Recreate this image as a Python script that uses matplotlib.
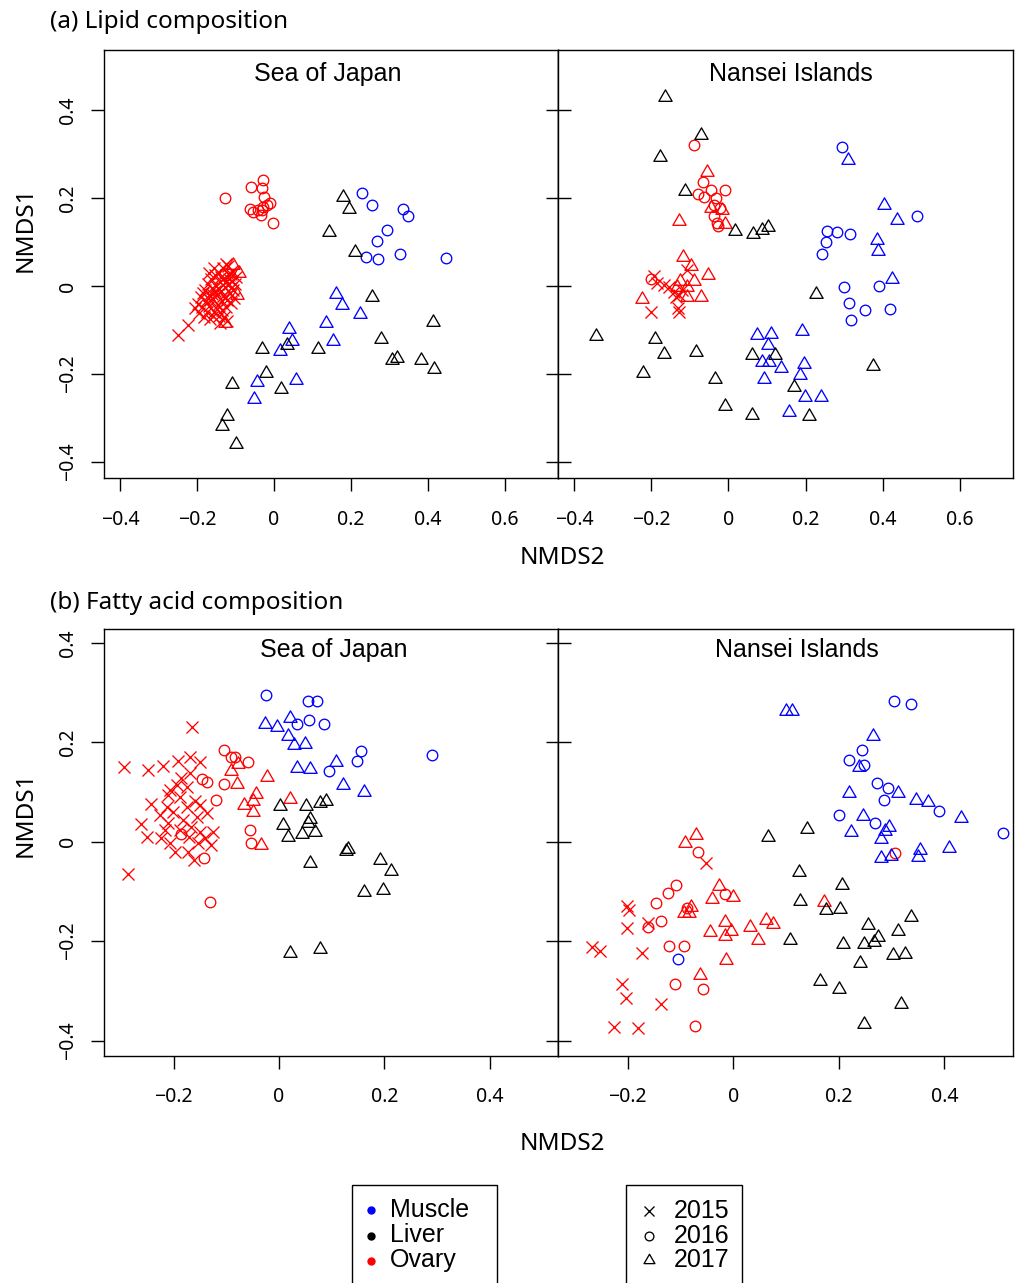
import matplotlib
matplotlib.use("Agg")
import matplotlib.pyplot as plt
from matplotlib.path import Path
from matplotlib.lines import Line2D
from matplotlib.patches import Rectangle

plt.rcParams["font.family"] = ["Noto Sans", "DejaVu Sans"]

# ---------------- data (NMDS2 = x, NMDS1 = y) ----------------
# (a) Lipid composition, Sea of Japan
A_SOJ_OVARY_2015 = [(-0.249, -0.111), (-0.223, -0.089), (-0.205, -0.050), (-0.198, -0.040), (-0.195, -0.062),
                    (-0.190, -0.025), (-0.186, -0.048), (-0.182, -0.070), (-0.180, -0.010), (-0.177, -0.035),
                    (-0.175, -0.058), (-0.172, 0.005), (-0.170, -0.020), (-0.168, -0.045), (-0.165, -0.075),
                    (-0.163, 0.015), (-0.160, -0.005), (-0.158, -0.030), (-0.156, -0.060), (-0.153, 0.025),
                    (-0.150, 0.000), (-0.148, -0.020), (-0.146, -0.042), (-0.144, -0.068), (-0.142, 0.030),
                    (-0.140, 0.010), (-0.138, -0.012), (-0.136, -0.035), (-0.134, -0.055), (-0.132, 0.040),
                    (-0.130, 0.018), (-0.128, -0.003), (-0.126, -0.025), (-0.124, -0.048), (-0.122, -0.080),
                    (-0.120, 0.045), (-0.118, 0.025), (-0.116, 0.005), (-0.114, -0.015), (-0.112, -0.038),
                    (-0.110, 0.035), (-0.108, 0.012), (-0.106, -0.008), (-0.104, -0.028), (-0.140, -0.085),
                    (-0.155, 0.040), (-0.125, 0.050), (-0.100, 0.020), (-0.185, -0.015), (-0.170, 0.030),
                    (-0.161, -0.017), (-0.149, -0.053), (-0.143, -0.006), (-0.133, -0.022), (-0.127, 0.008),
                    (-0.121, -0.032), (-0.117, 0.015), (-0.111, -0.004), (-0.137, 0.020), (-0.152, -0.012),
                    (-0.167, -0.032), (-0.159, -0.068), (-0.131, -0.070), (-0.113, 0.028), (-0.102, 0.005)]
A_SOJ_OVARY_2016 = [(-0.126, 0.201), (-0.060, 0.226), (-0.028, 0.241), (-0.031, 0.223), (-0.026, 0.203),
                    (-0.010, 0.188), (-0.019, 0.183), (-0.062, 0.175), (-0.054, 0.169), (-0.041, 0.173),
                    (-0.032, 0.173), (-0.035, 0.161), (-0.028, 0.180), (-0.002, 0.144)]
A_SOJ_OVARY_2017 = [(-0.107, 0.048), (-0.090, 0.029), (-0.097, -0.020), (-0.128, -0.083)]
A_SOJ_MUSCLE_2016 = [(0.229, 0.211), (0.254, 0.184), (0.335, 0.176), (0.347, 0.160), (0.293, 0.127),
                     (0.267, 0.103), (0.238, 0.067), (0.271, 0.061), (0.326, 0.073), (0.448, 0.064)]
A_SOJ_MUSCLE_2017 = [(0.160, -0.017), (0.176, -0.043), (0.224, -0.064), (0.136, -0.083), (0.038, -0.098),
                     (0.154, -0.124), (0.046, -0.125), (0.015, -0.148), (-0.044, -0.217), (0.056, -0.214),
                     (-0.053, -0.257)]
A_SOJ_LIVER_2017 = [(0.178, 0.202), (0.194, 0.176), (0.142, 0.123), (0.210, 0.077), (0.254, -0.024),
                    (0.412, -0.081), (0.279, -0.120), (-0.031, -0.142), (0.035, -0.133), (0.113, -0.144),
                    (0.307, -0.168), (0.320, -0.164), (0.381, -0.167), (0.416, -0.189), (-0.022, -0.197),
                    (-0.109, -0.223), (0.018, -0.235), (-0.123, -0.295), (-0.134, -0.317), (-0.100, -0.359)]

# (a) Lipid composition, Nansei Islands
A_NI_OVARY_2015 = [(-0.192, 0.023), (-0.184, 0.006), (-0.166, 0.002), (-0.153, -0.002), (-0.140, -0.013),
                   (-0.127, -0.020), (-0.136, -0.024), (-0.106, 0.036), (-0.201, -0.060), (-0.130, -0.051),
                   (-0.127, -0.060), (-0.119, -0.009)]
A_NI_OVARY_2016 = [(-0.090, 0.320), (-0.065, 0.237), (-0.045, 0.218), (-0.010, 0.218), (-0.078, 0.208),
                   (-0.062, 0.203), (-0.031, 0.201), (-0.038, 0.184), (-0.023, 0.178), (-0.036, 0.160),
                   (-0.030, 0.142), (-0.028, 0.137), (-0.201, 0.015)]
A_NI_OVARY_2017 = [(-0.055, 0.258), (-0.045, 0.177), (-0.016, 0.173), (-0.009, 0.140), (-0.129, 0.147),
                   (-0.118, 0.067), (-0.098, 0.046), (-0.054, 0.025), (-0.090, 0.011), (-0.126, 0.011),
                   (-0.106, -0.002), (-0.224, -0.030), (-0.106, -0.026), (-0.071, -0.026), (-0.132, -0.002)]
A_NI_MUSCLE_2016 = [(0.294, 0.315), (0.490, 0.158), (0.255, 0.124), (0.282, 0.122), (0.316, 0.117),
                    (0.254, 0.099), (0.242, 0.073), (0.300, -0.003), (0.390, 0.000), (0.312, -0.039),
                    (0.355, -0.055), (0.419, -0.052), (0.319, -0.078)]
A_NI_MUSCLE_2017 = [(0.310, 0.286), (0.404, 0.183), (0.436, 0.150), (0.384, 0.104), (0.389, 0.079),
                    (0.423, 0.015), (0.074, -0.111), (0.111, -0.108), (0.192, -0.102), (0.103, -0.135),
                    (0.087, -0.173), (0.105, -0.173), (0.136, -0.187), (0.196, -0.177), (0.185, -0.202),
                    (0.092, -0.211), (0.199, -0.252), (0.241, -0.253), (0.157, -0.286)]
A_NI_LIVER_2017 = [(-0.163, 0.429), (-0.070, 0.343), (-0.178, 0.292), (-0.112, 0.216), (0.016, 0.125),
                   (0.065, 0.117), (0.087, 0.127), (0.103, 0.135), (0.228, -0.019), (-0.343, -0.114),
                   (-0.190, -0.121), (-0.166, -0.155), (-0.083, -0.149), (0.062, -0.157), (0.121, -0.157),
                   (-0.220, -0.198), (-0.035, -0.212), (0.169, -0.230), (0.375, -0.182), (-0.010, -0.272),
                   (0.062, -0.293), (0.208, -0.295)]

# (b) Fatty acid composition, Sea of Japan
B_SOJ_OVARY_2015 = [(-0.165, 0.230), (-0.294, 0.151), (-0.248, 0.144), (-0.220, 0.152), (-0.191, 0.163),
                    (-0.168, 0.171), (-0.150, 0.161), (-0.169, 0.139), (-0.185, 0.128), (-0.194, 0.114),
                    (-0.175, 0.111), (-0.242, 0.076), (-0.210, 0.094), (-0.213, 0.070), (-0.261, 0.035),
                    (-0.250, 0.009), (-0.286, -0.065), (-0.159, 0.081), (-0.150, 0.074), (-0.201, 0.060),
                    (-0.226, 0.054), (-0.210, 0.038), (-0.182, 0.044), (-0.166, 0.030), (-0.137, 0.057),
                    (-0.125, 0.020), (-0.223, 0.007), (-0.207, -0.003), (-0.197, -0.020), (-0.172, -0.020),
                    (-0.161, -0.037), (-0.153, -0.003), (-0.141, 0.007), (-0.128, -0.007), (-0.188, 0.091),
                    (-0.175, 0.070), (-0.156, 0.050), (-0.188, 0.023), (-0.216, 0.023), (-0.170, 0.010),
                    (-0.150, 0.020), (-0.207, 0.104)]
B_SOJ_OVARY_2016 = [(-0.104, 0.185), (-0.091, 0.171), (-0.084, 0.171), (-0.058, 0.161), (-0.145, 0.126),
                    (-0.136, 0.121), (-0.104, 0.117), (-0.120, 0.085), (-0.054, 0.023), (-0.052, -0.003),
                    (-0.186, 0.015), (-0.143, -0.032), (-0.131, -0.121)]
B_SOJ_OVARY_2017 = [(-0.077, 0.156), (-0.090, 0.143), (-0.079, 0.117), (-0.023, 0.131), (-0.044, 0.096),
                    (-0.049, 0.081), (-0.066, 0.074), (-0.050, 0.060), (0.021, 0.087), (-0.033, -0.006)]
B_SOJ_MUSCLE_2016 = [(-0.025, 0.295), (0.056, 0.284), (0.072, 0.284), (0.034, 0.237), (0.058, 0.244),
                     (0.085, 0.236), (0.156, 0.183), (0.148, 0.163), (0.096, 0.142), (0.291, 0.175)]
B_SOJ_MUSCLE_2017 = [(-0.027, 0.237), (-0.003, 0.230), (0.022, 0.248), (0.018, 0.213), (0.028, 0.195),
                     (0.050, 0.196), (0.034, 0.148), (0.059, 0.146), (0.109, 0.161), (0.122, 0.115),
                     (0.161, 0.101)]
B_SOJ_LIVER_2017 = [(0.003, 0.072), (0.051, 0.072), (0.078, 0.077), (0.090, 0.081), (0.007, 0.034),
                    (0.059, 0.045), (0.056, 0.038), (0.018, 0.009), (0.044, 0.015), (0.068, 0.020),
                    (0.059, -0.042), (0.127, -0.018), (0.132, -0.015), (0.192, -0.037), (0.212, -0.058),
                    (0.161, -0.101), (0.198, -0.097), (0.021, -0.223), (0.078, -0.216)]

# (b) Fatty acid composition, Nansei Islands
B_NI_OVARY_2015 = [(-0.052, -0.042), (-0.201, -0.130), (-0.197, -0.138), (-0.161, -0.163), (-0.201, -0.173),
                   (-0.267, -0.211), (-0.253, -0.219), (-0.173, -0.223), (-0.210, -0.287), (-0.204, -0.315),
                   (-0.137, -0.327), (-0.226, -0.372), (-0.180, -0.374)]
B_NI_OVARY_2016 = [(-0.066, -0.021), (-0.109, -0.087), (-0.124, -0.104), (-0.147, -0.123), (-0.015, -0.105),
                   (-0.088, -0.134), (-0.136, -0.160), (-0.161, -0.172), (-0.121, -0.210), (-0.094, -0.210),
                   (-0.111, -0.287), (-0.058, -0.297), (-0.072, -0.370), (0.306, -0.023)]
B_NI_OVARY_2017 = [(-0.070, 0.013), (-0.091, -0.002), (-0.027, -0.089), (-0.001, -0.111), (-0.041, -0.116),
                   (-0.080, -0.132), (-0.093, -0.143), (-0.084, -0.143), (-0.015, -0.161), (-0.004, -0.179),
                   (-0.044, -0.181), (-0.015, -0.190), (0.032, -0.172), (0.062, -0.158), (0.076, -0.166),
                   (0.047, -0.198), (0.172, -0.121), (-0.013, -0.237), (-0.063, -0.269)]
B_NI_MUSCLE_2016 = [(0.304, 0.283), (0.337, 0.278), (0.243, 0.185), (0.220, 0.164), (0.247, 0.154),
                    (0.272, 0.119), (0.294, 0.109), (0.285, 0.085), (0.390, 0.061), (0.200, 0.053),
                    (0.269, 0.038), (0.511, 0.018), (-0.104, -0.235)]
B_NI_MUSCLE_2017 = [(0.099, 0.264), (0.111, 0.264), (0.265, 0.213), (0.239, 0.151), (0.220, 0.098),
                    (0.312, 0.098), (0.346, 0.085), (0.369, 0.079), (0.431, 0.047), (0.245, 0.052),
                    (0.224, 0.019), (0.296, 0.029), (0.288, 0.021), (0.279, 0.005), (0.353, -0.017),
                    (0.350, -0.030), (0.409, -0.013), (0.280, -0.032), (0.299, -0.028)]
B_NI_LIVER_2017 = [(0.065, 0.010), (0.139, 0.026), (0.125, -0.060), (0.206, -0.087), (0.127, -0.119),
                   (0.175, -0.138), (0.203, -0.136), (0.337, -0.152), (0.256, -0.168), (0.313, -0.179),
                   (0.108, -0.197), (0.207, -0.206), (0.247, -0.206), (0.266, -0.201), (0.275, -0.191),
                   (0.303, -0.228), (0.325, -0.225), (0.241, -0.244), (0.165, -0.281), (0.200, -0.297),
                   (0.318, -0.327), (0.247, -0.366)]

TISSUES = ["Muscle", "Liver", "Ovary"]
YEARS = ["2015", "2016", "2017"]
PANEL_TITLES = ["Sea of Japan", "Nansei Islands"]
A_XTICKS = [-0.4, -0.2, 0.0, 0.2, 0.4, 0.6]
A_XTICKLABELS = ["\u22120.4", "\u22120.2", "0", "0.2", "0.4", "0.6"]
A_YTICKS = [-0.4, -0.2, 0.0, 0.2, 0.4]
A_YTICKLABELS = ["\u22120.4", "\u22120.2", "0", "0.2", "0.4"]
B_XTICKS = [-0.2, 0.0, 0.2, 0.4]
B_XTICKLABELS = ["\u22120.2", "0", "0.2", "0.4"]
B_YTICKS = [-0.4, -0.2, 0.0, 0.2, 0.4]
B_YTICKLABELS = ["\u22120.4", "\u22120.2", "0", "0.2", "0.4"]

# ---------------- styling ----------------
COLORS = {"Muscle": "#0000FF", "Liver": "#000000", "Ovary": "#FF0000"}
TRI = Path([(0.0, 1.0), (-0.866, -0.5), (0.866, -0.5), (0.0, 1.0)], closed=True)
MARKERS = {"2015": ("x", 8.0), "2016": ("o", 7.6), "2017": (TRI, 11.0)}
LW = 0.95
TITLE_FONT = ["Liberation Sans", "DejaVu Sans"]
TICK_FS = 14

W, H = 1019, 1283
fig = plt.figure(figsize=(W / 100, H / 100), dpi=100)


def fx(px):
    return px / W


def fy(py):
    return 1 - py / H


def box(l, t, r, b):
    return [fx(l), fy(b), fx(r) - fx(l), fy(t) - fy(b)]


def scatter(ax, pts, tissue, year):
    xs = [p[0] for p in pts]
    ys = [p[1] for p in pts]
    m, ms = MARKERS[year]
    ax.plot(xs, ys, linestyle="none", marker=m, markersize=ms,
            markerfacecolor="none", markeredgecolor=COLORS[tissue],
            markeredgewidth=LW, clip_on=False)


def setup(ax, xlim, ylim, xt, xtl, yt, ytl, left, xpad):
    ax.set_xlim(*xlim)
    ax.set_ylim(*ylim)
    for s in ax.spines.values():
        s.set_linewidth(1.0)
    ax.set_xticks(xt)
    ax.set_xticklabels(xtl)
    ax.tick_params(axis="x", direction="out", length=9.5, width=1.0, labelsize=TICK_FS, pad=xpad,
                   top=False)
    ax.set_yticks(yt)
    if left:
        ax.set_yticklabels(ytl)
        ax.tick_params(axis="y", direction="out", length=9.5, width=1.0, labelsize=TICK_FS, pad=8.9,
                       right=False, labelrotation=90)
        for lab in ax.get_yticklabels():
            lab.set_verticalalignment("center")
        sec = ax.secondary_yaxis("right")
        sec.set_yticks(yt)
        sec.tick_params(axis="y", direction="in", length=8.5, width=1.0, labelright=False)
        sec.spines["right"].set_linewidth(1.0)
    else:
        ax.tick_params(axis="y", direction="in", length=9.5, width=1.0, labelleft=False,
                       right=False)


A_XLIM = (-0.4416, 0.7377)
A_YLIM = (-0.436, 0.536)
B_XLIM = (-0.332, 0.530)
B_YLIM = (-0.431, 0.428)

axA1 = fig.add_axes(box(104, 50, 558, 478))
axA2 = fig.add_axes(box(558, 50, 1013, 478))
axB1 = fig.add_axes(box(104, 629, 558, 1056))
axB2 = fig.add_axes(box(558, 629, 1013, 1056))

setup(axA1, A_XLIM, A_YLIM, A_XTICKS, A_XTICKLABELS, A_YTICKS, A_YTICKLABELS, True, 13.8)
setup(axA2, A_XLIM, A_YLIM, A_XTICKS, A_XTICKLABELS, A_YTICKS, A_YTICKLABELS, False, 13.8)
setup(axB1, B_XLIM, B_YLIM, B_XTICKS, B_XTICKLABELS, B_YTICKS, B_YTICKLABELS, True, 13.1)
setup(axB2, B_XLIM, B_YLIM, B_XTICKS, B_XTICKLABELS, B_YTICKS, B_YTICKLABELS, False, 13.1)

groups = {
    axA1: [(A_SOJ_OVARY_2015, "Ovary", "2015"), (A_SOJ_OVARY_2016, "Ovary", "2016"),
           (A_SOJ_OVARY_2017, "Ovary", "2017"), (A_SOJ_MUSCLE_2016, "Muscle", "2016"),
           (A_SOJ_MUSCLE_2017, "Muscle", "2017"), (A_SOJ_LIVER_2017, "Liver", "2017")],
    axA2: [(A_NI_OVARY_2015, "Ovary", "2015"), (A_NI_OVARY_2016, "Ovary", "2016"),
           (A_NI_OVARY_2017, "Ovary", "2017"), (A_NI_MUSCLE_2016, "Muscle", "2016"),
           (A_NI_MUSCLE_2017, "Muscle", "2017"), (A_NI_LIVER_2017, "Liver", "2017")],
    axB1: [(B_SOJ_OVARY_2015, "Ovary", "2015"), (B_SOJ_OVARY_2016, "Ovary", "2016"),
           (B_SOJ_OVARY_2017, "Ovary", "2017"), (B_SOJ_MUSCLE_2016, "Muscle", "2016"),
           (B_SOJ_MUSCLE_2017, "Muscle", "2017"), (B_SOJ_LIVER_2017, "Liver", "2017")],
    axB2: [(B_NI_OVARY_2015, "Ovary", "2015"), (B_NI_OVARY_2016, "Ovary", "2016"),
           (B_NI_OVARY_2017, "Ovary", "2017"), (B_NI_MUSCLE_2016, "Muscle", "2016"),
           (B_NI_MUSCLE_2017, "Muscle", "2017"), (B_NI_LIVER_2017, "Liver", "2017")],
}
for ax, glist in groups.items():
    for pts, tissue, year in glist:
        scatter(ax, pts, tissue, year)

# panel titles
for (xc, yb, title) in [(328, 81, PANEL_TITLES[0]), (791, 81, PANEL_TITLES[1]),
                        (334, 657, PANEL_TITLES[0]), (797, 657, PANEL_TITLES[1])]:
    fig.text(fx(xc), fy(yb), title, ha="center", va="baseline", fontsize=18, family=TITLE_FONT)

# section labels and axis titles
fig.text(fx(50), fy(28), "(a) Lipid composition", ha="left", va="baseline", fontsize=17.5)
fig.text(fx(50), fy(609), "(b) Fatty acid composition", ha="left", va="baseline", fontsize=17.5)
fig.text(fx(562), fy(564), "NMDS2", ha="center", va="baseline", fontsize=17.5)
fig.text(fx(562), fy(1150), "NMDS2", ha="center", va="baseline", fontsize=17.5)
fig.text(fx(26), fy(229), "NMDS1", ha="center", va="center", rotation=90, fontsize=17.5)
fig.text(fx(26), fy(814), "NMDS1", ha="center", va="center", rotation=90, fontsize=17.5)

# legends
fig.add_artist(Rectangle((fx(352), -0.02), fx(497) - fx(352), fy(1185) + 0.02,
                         transform=fig.transFigure, fill=False, lw=1.0, ec="black"))
fig.add_artist(Rectangle((fx(626), -0.02), fx(742) - fx(626), fy(1185) + 0.02,
                         transform=fig.transFigure, fill=False, lw=1.0, ec="black"))
for tissue, yc, yb in zip(TISSUES, [1210, 1236, 1261], [1217, 1242, 1267]):
    fig.add_artist(Line2D([fx(371)], [fy(yc)], marker="o", markersize=5, linestyle="none",
                          color=COLORS[tissue], transform=fig.transFigure))
    fig.text(fx(390), fy(yb), tissue, ha="left", va="baseline", fontsize=18, family=TITLE_FONT)
for year, yc, yb, ms in zip(YEARS, [1211, 1236, 1260], [1218, 1243, 1267], [6.5, 6.3, 9.0]):
    m = MARKERS[year][0]
    fig.add_artist(Line2D([fx(649)], [fy(yc)], marker=m, markersize=ms, linestyle="none",
                          markerfacecolor="none", markeredgecolor="black", markeredgewidth=LW,
                          transform=fig.transFigure))
    fig.text(fx(674), fy(yb), year, ha="left", va="baseline", fontsize=18, family=TITLE_FONT)

fig.savefig("out.png", dpi=100)
